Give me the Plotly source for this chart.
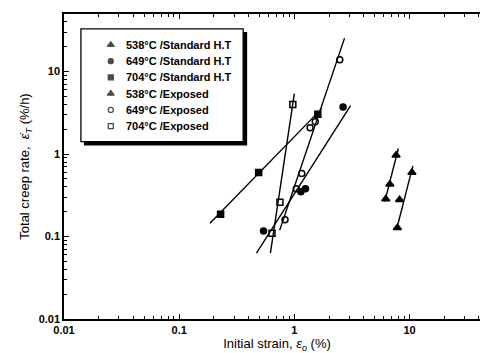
import plotly.graph_objects as go

# ---- data ----
std538_x = [6.22, 6.75, 7.65]
std538_y = [0.285, 0.43, 0.97]
std649_x = [0.54, 1.14, 1.25, 2.65]
std649_y = [0.117, 0.35, 0.38, 3.73]
std704_x = [0.229, 0.49, 1.6]
std704_y = [0.187, 0.6, 3.04]
exp538_x = [7.85, 8.2, 10.5]
exp538_y = [0.128, 0.28, 0.6]
exp649_x = [0.83, 1.04, 1.16, 1.37, 1.52, 2.48]
exp649_y = [0.16, 0.38, 0.58, 2.08, 2.46, 13.9]
exp704_x = [0.64, 0.75, 0.97]
exp704_y = [0.11, 0.26, 4.0]

# fitted lines (end points)
fit_std538_x = [6.1, 8.0]
fit_std538_y = [0.265, 1.17]
fit_exp538_x = [7.7, 10.7]
fit_exp538_y = [0.12, 0.72]
fit_std649_x = [0.469, 3.08]
fit_std649_y = [0.063, 3.87]
fit_exp649_x = [0.746, 2.73]
fit_exp649_y = [0.119, 25.5]
fit_std704_x = [0.185, 1.73]
fit_std704_y = [0.145, 3.56]
fit_exp704_x = [0.62, 1.0]
fit_exp704_y = [0.063, 5.4]

series_names = ["538°C /Standard H.T", "649°C /Standard H.T", "704°C /Standard H.T",
                "538°C /Exposed", "649°C /Exposed", "704°C /Exposed"]

tick_vals = [0.01, 0.1, 1, 10]
tick_text = ["0.01", "0.1", "1", "10"]

FONT = "Liberation Sans, Arial, sans-serif"

fig = go.Figure()

for fx, fy in [(fit_std538_x, fit_std538_y), (fit_exp538_x, fit_exp538_y),
               (fit_std649_x, fit_std649_y), (fit_exp649_x, fit_exp649_y),
               (fit_std704_x, fit_std704_y), (fit_exp704_x, fit_exp704_y)]:
    fig.add_trace(go.Scatter(x=fx, y=fy, mode="lines",
                             line=dict(color="black", width=1.4),
                             showlegend=False, hoverinfo="skip"))

symbols = ["triangle-up", "circle", "square", "triangle-up", "circle-open", "square-open"]
sizes = [7, 6, 6, 7, 6, 6]
data_xy = [(std538_x, std538_y), (std649_x, std649_y), (std704_x, std704_y),
           (exp538_x, exp538_y), (exp649_x, exp649_y), (exp704_x, exp704_y)]
for name, (xs, ys), sym, sz in zip(series_names, data_xy, symbols, sizes):
    fig.add_trace(go.Scatter(x=xs, y=ys, mode="markers", name=name,
                             showlegend=False,
                             marker=dict(symbol=sym, size=sz, color="black",
                                         line=dict(color="black", width=1.5))))

# plot area in pixels: x 56..484, y 5..311
def px(x):
    return (x - 56) / 428.0

def py(y):
    return (311 - y) / 306.0

# ---- hand-made legend (box with drop shadow, keys, labels) ----
row_y = [36, 52.3, 68.6, 84.9, 101.2, 117.5]
key_x = 103
text_x = 116

fig.add_trace(go.Scatter(
    x=[px(key_x)] * len(series_names), y=[py(r) for r in row_y],
    xaxis="x2", yaxis="y2", mode="markers", showlegend=False, hoverinfo="skip",
    marker=dict(symbol=symbols, size=[6, 5, 5, 6, 5, 5], color="black",
                line=dict(color="black", width=1.3))))

shapes = [
    dict(type="rect", xref="paper", yref="paper",
         x0=px(76), x1=px(240), y0=py(137), y1=py(23),
         fillcolor="black", line=dict(width=0), layer="below"),
    dict(type="rect", xref="paper", yref="paper",
         x0=px(73), x1=px(236), y0=py(133), y1=py(20),
         fillcolor="white", line=dict(color="black", width=1.3), layer="below"),
]

annotations = [
    dict(xref="paper", yref="paper", x=px(text_x), y=py(r), text=n,
         xanchor="left", yanchor="middle", showarrow=False,
         font=dict(family=FONT, size=11, color="black", weight="bold"))
    for n, r in zip(series_names, row_y)
]

axis_common = dict(
    type="log", showgrid=False, zeroline=False,
    showline=True, linecolor="black", linewidth=1.5, mirror="allticks",
    ticks="inside", ticklen=5, tickwidth=1.2, tickcolor="black",
    tickvals=tick_vals, ticktext=tick_text,
    tickfont=dict(family=FONT, size=11, color="black", weight="bold"),
    minor=dict(ticks="inside", ticklen=3, tickwidth=1, tickcolor="black",
               dtick="D1", showgrid=False),
)

fig.update_layout(
    width=488, height=353,
    margin=dict(l=56, r=4, t=5, b=42),
    paper_bgcolor="white", plot_bgcolor="white",
    font=dict(family=FONT, color="black"),
    showlegend=False,
    shapes=shapes,
    annotations=annotations,
    xaxis=dict(range=[-2, 1.699],
               title=dict(text="Initial strain, <i>ε</i><sub><i>o</i></sub> (%)",
                          font=dict(family=FONT, size=13, color="black"),
                          standoff=4),
               **axis_common),
    yaxis=dict(range=[-2, 1.699],
               title=dict(text="Total creep rate,  <i>ε̇</i><sub><i>T</i></sub> (%/h)",
                          font=dict(family=FONT, size=13, color="black"),
                          standoff=6),
               **axis_common),
    xaxis2=dict(range=[0, 1], overlaying="x", visible=False, fixedrange=True),
    yaxis2=dict(range=[0, 1], overlaying="y", visible=False, fixedrange=True),
)

fig.write_html("out.html")
